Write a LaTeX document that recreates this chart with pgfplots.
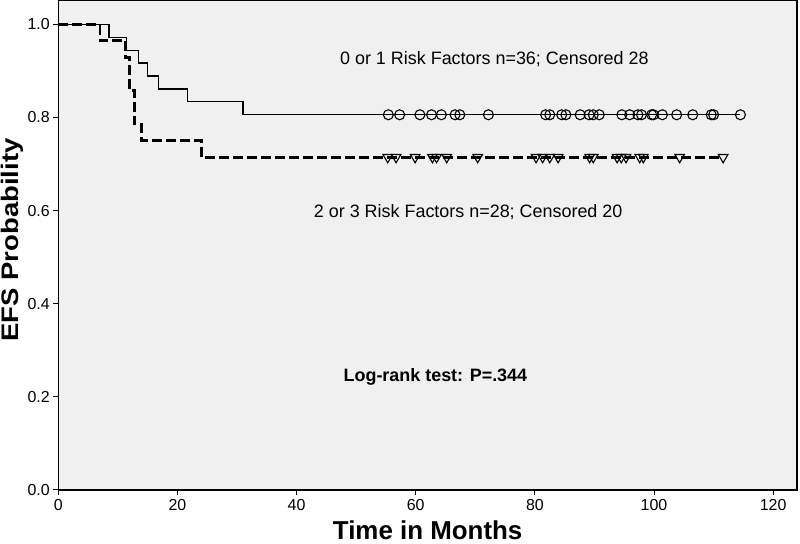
\documentclass[border=0pt]{standalone}
\usepackage{fontspec}
\setmainfont{Liberation Sans}
\usepackage{pgfplots}
\pgfplotsset{compat=1.18}

\definecolor{plotbg}{HTML}{F0F0F0}

\begin{document}
\begin{tikzpicture}
\begin{axis}[
    at={(58.3bp,54bp)}, anchor=south west,
    scale only axis,
    width=738.7bp, height=490bp,
    xmin=0, xmax=124, ymin=0, ymax=1.052,
    axis background/.style={fill=plotbg},
    axis line style={line width=1.2bp},
    xtick={0,20,...,120},
    ytick={0,0.2,...,1.0},
    yticklabel style={/pgf/number format/.cd, fixed, fixed zerofill, precision=1},
    /pgf/number format/assume math mode=true,
    tick align=outside,
    xtick pos=bottom, ytick pos=left,
    major tick length=5bp,
    tick style={black, line width=1bp},
    ticklabel style={font=\fontsize{16}{18}\selectfont},
    xticklabel style={yshift=-1bp},
    xlabel={\textbf{Time in Months}},
    ylabel={\scalebox{1.15}[1]{\textbf{EFS Probability}}},
    every axis x label/.style={at={(axis description cs:0.5,-0.082)}, anchor=center, font=\fontsize{26}{30}\selectfont},
    every axis y label/.style={at={(axis description cs:-0.062,0.51)}, anchor=center, rotate=90, font=\fontsize{24}{28}\selectfont},
    clip=false,
]
% 0 or 1 risk factors
\addplot[const plot, black, line width=1.2bp] coordinates {
    (0,1) (8.5,0.9722) (11.5,0.9444) (13.5,0.9167) (15,0.8889)
    (16.8,0.8611) (21.7,0.8333) (31,0.8056) (114.5,0.8056)};
% 2 or 3 risk factors
\addplot[const plot, black, line width=2.8bp, dash pattern=on 10bp off 4bp] coordinates {
    (0,1) (7,0.9643) (11.3,0.9286) (11.9,0.8571) (12.8,0.7857)
    (13.9,0.75) (24.1,0.7143) (111.6,0.7143)};
% censored, group 1
\addplot[only marks, mark=o, mark size=5bp, mark options={black, line width=1.1bp}] coordinates {
    (55.4,0.8056) (57.3,0.8056) (60.7,0.8056) (62.65,0.8056) (64.3,0.8056)
    (66.6,0.8056) (67.4,0.8056) (72.2,0.8056) (81.8,0.8056) (82.5,0.8056)
    (84.5,0.8056) (85.2,0.8056) (87.6,0.8056) (89.1,0.8056) (89.8,0.8056)
    (90.8,0.8056) (94.6,0.8056) (95.9,0.8056) (97.3,0.8056) (97.9,0.8056)
    (99.6,0.8056) (99.9,0.8056) (101.4,0.8056) (103.8,0.8056) (106.5,0.8056)
    (109.6,0.8056) (110.0,0.8056) (114.5,0.8056)};
% censored, group 2
\addplot[only marks, mark=triangle, mark size=5.5bp, mark options={black, line width=1.1bp, rotate=180, fill=white}] coordinates {
    (55.3,0.7143) (56.7,0.7143) (59.9,0.7143) (62.8,0.7143) (63.5,0.7143)
    (65.2,0.7143) (70.4,0.7143) (80.2,0.7143) (81.3,0.7143) (82.5,0.7143)
    (83.9,0.7143) (89.2,0.7143) (89.8,0.7143) (93.8,0.7143) (94.5,0.7143)
    (95.3,0.7143) (97.6,0.7143) (98.2,0.7143) (104.3,0.7143) (111.6,0.7143)};

\node[font=\fontsize{18}{21}\selectfont] at (axis cs:73.2,0.924) {0 or 1 Risk Factors n=36; Censored 28};
\node[font=\fontsize{18}{21}\selectfont] at (axis cs:68.8,0.597) {2 or 3 Risk Factors n=28; Censored 20};
\node[font=\bfseries\fontsize{18}{21}\selectfont] at (axis cs:63.3,0.243) {Log-rank test: P=.344};
\end{axis}
\pgfresetboundingbox
\path (0,0) rectangle (800bp,544bp);
\end{tikzpicture}
\end{document}
